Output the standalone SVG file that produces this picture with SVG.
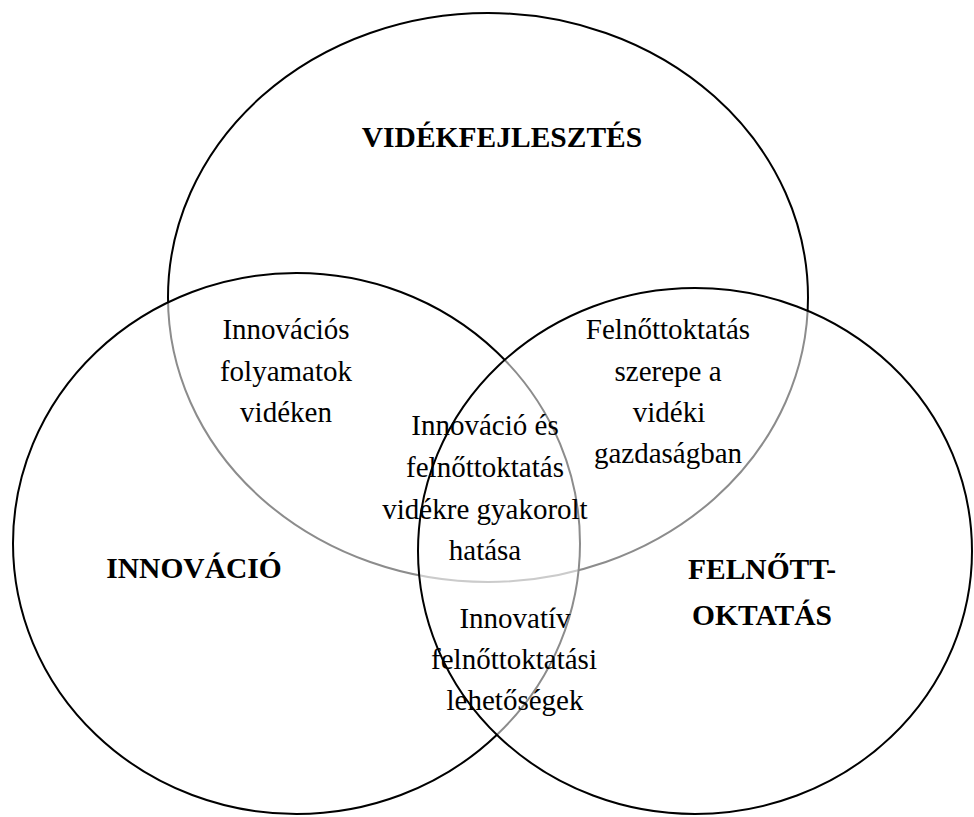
<svg xmlns="http://www.w3.org/2000/svg" width="974" height="817" viewBox="0 0 974 817">
<style>
.set{fill:#ffffff;fill-opacity:0.55;stroke:#000000;stroke-width:2}
.t{font-family:"Liberation Serif","Times New Roman",serif;font-size:29px;fill:#000000;text-anchor:middle}
.b{font-family:"Liberation Serif","Times New Roman",serif;font-size:29.5px;font-weight:bold;fill:#000000;text-anchor:middle}
</style>
<rect x="0" y="0" width="974" height="817" fill="#ffffff"/>
<g id="videkfejlesztes">
<ellipse class="set" cx="488" cy="297.5" rx="320" ry="284.5"/>
<text class="b" x="502" y="147">VIDÉKFEJLESZTÉS</text>
</g>
<g id="innovacio">
<ellipse class="set" cx="296.5" cy="543.5" rx="283.5" ry="270.5"/>
<text class="b" x="194" y="578">INNOVÁCIÓ</text>
</g>
<g id="felnottoktatas">
<ellipse class="set" cx="695" cy="551" rx="277" ry="263"/>
<text class="b" x="762" y="579">FELNŐTT-</text>
<text class="b" x="762" y="625">OKTATÁS</text>
</g>
<g id="connectors"/>
<g id="innovacios-folyamatok">
<text class="t" x="286" y="339">Innovációs</text>
<text class="t" x="286" y="381">folyamatok</text>
<text class="t" x="286" y="422">vidéken</text>
</g>
<g id="felnottoktatas-szerepe">
<text class="t" x="668" y="339">Felnőttoktatás</text>
<text class="t" x="668" y="381">szerepe a</text>
<text class="t" x="669" y="422">vidéki</text>
<text class="t" x="668" y="463">gazdaságban</text>
</g>
<g id="kozos-hatas">
<text class="t" x="485" y="435">Innováció és</text>
<text class="t" x="485" y="477">felnőttoktatás</text>
<text class="t" x="485" y="519">vidékre gyakorolt</text>
<text class="t" x="485" y="560">hatása</text>
</g>
<g id="innovativ-lehetosegek">
<text class="t" x="515" y="628">Innovatív</text>
<text class="t" x="514" y="669">felnőttoktatási</text>
<text class="t" x="515" y="710">lehetőségek</text>
</g>
</svg>
